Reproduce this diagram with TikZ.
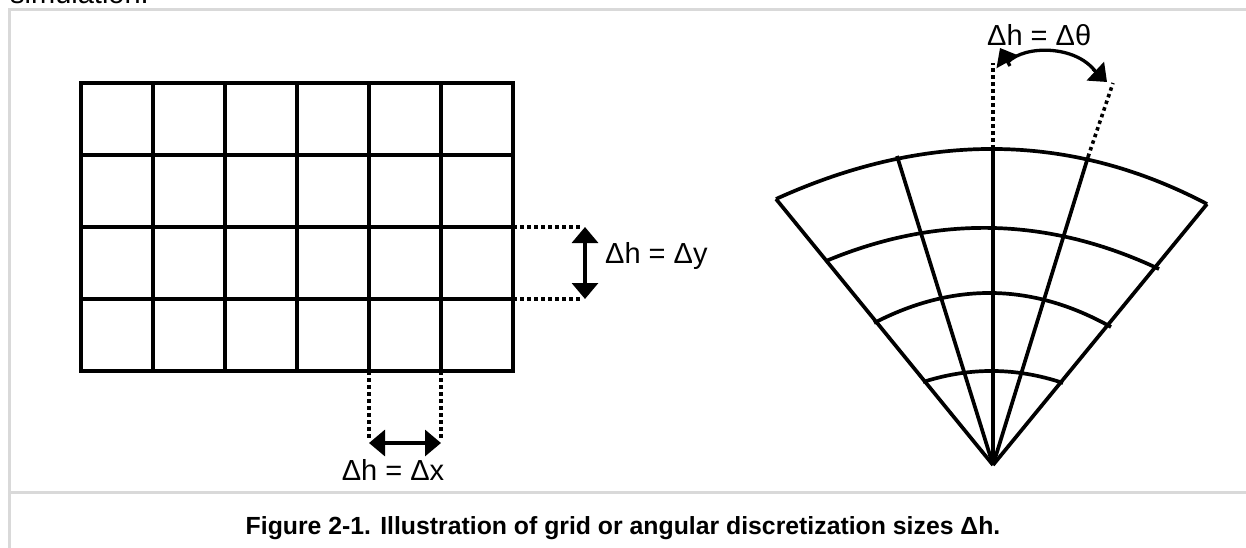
\documentclass[tikz,border=0pt]{standalone}
\usepackage{fontspec}
\setmainfont{Liberation Sans}
\usetikzlibrary{arrows.meta}
\begin{document}
\begin{tikzpicture}[x=1pt,y=-1pt,
  heavy/.style={line width=3.7pt},
  dotline/.style={line width=3.6pt, dash pattern=on 3.5pt off 3.5pt},
  dimarrow/.style={line width=3.3pt, {Triangle[length=16pt,width=26pt]}-{Triangle[length=16pt,width=26pt]}},
  headonly/.style={line width=3.3pt, -{Triangle[length=16pt,width=25pt]}},
  lbl/.style={inner sep=0pt, font=\fontsize{29}{34}\selectfont},
  frame/.style={draw=black!15, line width=3pt}]
\useasboundingbox (0,0) rectangle (1246,548);
\fill[white] (0,0) rectangle (1246,548);
% frame
\draw[frame] (1246,9.5) -- (9.5,9.5) -- (9.5,548);
\draw[frame] (9.5,492) -- (1246,492);
% cut-off text at top (continuation of the page above)
\node[lbl, anchor=base west] (prev) at (10,4) {simulation.};
% rectangular grid
\foreach \i in {1,...,5} \draw[heavy] (81+72*\i,83) -- (81+72*\i,371);
\foreach \j in {1,...,3} \draw[heavy] (81,83+72*\j) -- (513,83+72*\j);
\draw[heavy] (81,83) rectangle (513,371);
% dy dimension
\coordinate (gy1) at (513,227);
\coordinate (gy2) at (513,299);
\coordinate (ey1) at (582,227);
\coordinate (ey2) at (582,299);
\coordinate (ay1) at (585,227);
\coordinate (ay2) at (585,299);
\draw[dotline] (gy1) -- (ey1);
\draw[dotline] (gy2) -- (ey2);
\draw[dimarrow] (ay1) -- (ay2);
\node[lbl, anchor=base west] (ly) at (605,263) {Δh = Δy};
% dx dimension
\coordinate (gx1) at (369,371);
\coordinate (gx2) at (441,371);
\coordinate (ex1) at (369,438);
\coordinate (ex2) at (441,438);
\coordinate (ax1) at (369,443);
\coordinate (ax2) at (441,443);
\draw[dotline] (gx1) -- (ex1);
\draw[dotline] (gx2) -- (ex2);
\draw[dimarrow] (ax1) -- (ax2);
\node[lbl, anchor=base] (lx) at (393,480) {Δh = Δx};
% fan
\coordinate (O) at (993,465);
\coordinate (r1) at (776,199);
\coordinate (r2) at (897,156);
\coordinate (r3) at (993,149);
\coordinate (r4) at (1088,157);
\coordinate (r5) at (1207,204);
\foreach \r in {r1,r2,r3,r4,r5} \draw[heavy] (O) -- (\r);
\draw[heavy] (r1) .. controls (926.3,130.7) and (1070.7,132.3) .. (r5);
\draw[heavy] (826,261) .. controls (937.7,214.3) and (1048.7,217) .. (1159,269);
\draw[heavy] (874,323) .. controls (953.7,281.7) and (1032.7,283) .. (1111,327);
\draw[heavy] (923,382) .. controls (969.7,367) and (1016.3,367.3) .. (1063,383);
% dtheta
\coordinate (t1) at (993,63);
\coordinate (t2) at (1113,83);
\draw[dotline] (r3) -- (t1);
\draw[dotline] (r4) -- (t2);
\coordinate (s1) at (1008,62);
\coordinate (s2) at (1095,71);
\draw[line width=3.3pt] (s1) .. controls (1025,45) and (1075,45) .. (s2);
\draw[headonly] (1010,66) -- (1000,48);
\draw[headonly] (1093,69) -- (1107,82);
\node[lbl, anchor=base west] (lt) at (987,46) {Δh = Δθ};
% caption
\node[inner sep=0pt, anchor=base, font=\bfseries\fontsize{24.8}{30}\selectfont] (cap) at (623,534) {Figure 2-1. Illustration of grid or angular discretization sizes Δh.};
\end{tikzpicture}
\end{document}
